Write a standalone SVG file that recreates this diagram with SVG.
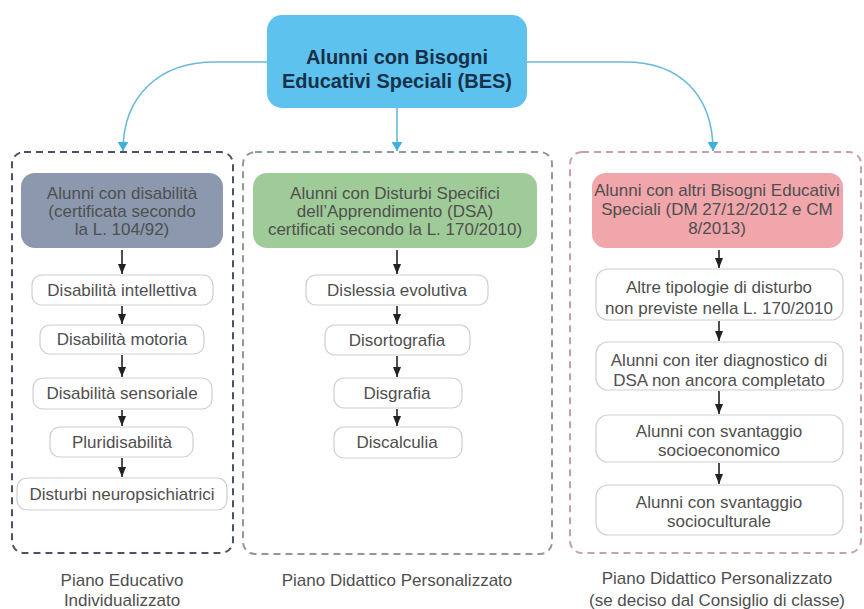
<svg xmlns="http://www.w3.org/2000/svg" width="864" height="609" viewBox="0 0 864 609">
<defs>
<style>
text{font-family:"Liberation Sans",Arial,sans-serif;font-size:17px;fill:#4f4f4f;text-anchor:middle}
.title{font-weight:bold;font-size:20px;fill:#16304a}
.node{fill:#ffffff;stroke:#cfcfcf;stroke-width:1.2}
.grp{fill:none;stroke-width:2;stroke-dasharray:7 5}
.blk{stroke:#222;stroke-width:1.6;fill:none;marker-end:url(#ah)}
.cy{stroke:#6ab9d8;stroke-width:1.6;fill:none;marker-end:url(#ahc)}
</style>
<marker id="ah" viewBox="0 0 10 8" refX="10" refY="4" markerWidth="10" markerHeight="8" markerUnits="userSpaceOnUse" orient="auto">
<path d="M0,0 L10,4 L0,8 Z" fill="#222"/>
</marker>
<marker id="ahc" viewBox="0 0 10 12" refX="10" refY="6" markerWidth="9" markerHeight="12" markerUnits="userSpaceOnUse" orient="auto">
<path d="M0,0 L10,6 L0,12 Z" fill="#3fb0dc"/>
</marker>
</defs>
<rect width="864" height="609" fill="#ffffff"/>

<g id="group-left"><rect class="grp" x="12" y="152" width="221" height="401" rx="12" stroke="#4b5466"/></g>
<g id="group-center"><rect class="grp" x="243" y="152" width="309" height="402" rx="12" stroke="#8e9c8e"/></g>
<g id="group-right"><rect class="grp" x="570" y="152" width="291" height="401" rx="12" stroke="#c9a0a6"/></g>

<g id="connectors">
<path class="cy" d="M267,62 H215 C160,62 123,95 123,151"/>
<path class="cy" d="M397,108 V151"/>
<path class="cy" d="M527,62 H625 C680,62 713,95 713,151"/>
<path class="blk" d="M122,250 V274"/>
<path class="blk" d="M122,306 V324"/>
<path class="blk" d="M122,355 V377"/>
<path class="blk" d="M122,410 V426"/>
<path class="blk" d="M122,458 V477"/>
<path class="blk" d="M397,250 V274"/>
<path class="blk" d="M397,306 V324"/>
<path class="blk" d="M397,356 V377"/>
<path class="blk" d="M397,409 V426"/>
<path class="blk" d="M719,250 V268"/>
<path class="blk" d="M719,321 V341"/>
<path class="blk" d="M719,391 V414"/>
<path class="blk" d="M719,463 V484"/>
</g>

<g id="bes">
<rect x="267" y="15" width="260" height="93" rx="15" fill="#5ec2ee"/>
<text class="title" x="397" y="64">Alunni con Bisogni</text>
<text class="title" x="397" y="88">Educativi Speciali (BES)</text>
</g>

<g id="disabilita">
<rect x="21" y="173" width="202" height="75" rx="14" fill="#8c98ae"/>
<text x="122" y="199">Alunni con disabilità</text>
<text x="122" y="217">(certificata secondo</text>
<text x="122" y="235">la L. 104/92)</text>
</g>
<g id="intellettiva"><rect class="node" x="32" y="275" width="181" height="30" rx="10"/><text x="122" y="296">Disabilità intellettiva</text></g>
<g id="motoria"><rect class="node" x="40" y="325" width="164" height="29" rx="10"/><text x="122" y="345">Disabilità motoria</text></g>
<g id="sensoriale"><rect class="node" x="33" y="378" width="179" height="31" rx="10"/><text x="122" y="399">Disabilità sensoriale</text></g>
<g id="pluri"><rect class="node" x="50" y="427" width="143" height="30" rx="10"/><text x="122" y="448">Pluridisabilità</text></g>
<g id="neuro"><rect class="node" x="17" y="478" width="210" height="32" rx="10"/><text x="122" y="500">Disturbi neuropsichiatrici</text></g>
<g id="label-left"><text x="122" y="586">Piano Educativo</text><text x="122" y="606">Individualizzato</text></g>

<g id="dsa">
<rect x="253" y="173" width="284" height="75" rx="14" fill="#9fcb98"/>
<text x="395" y="199">Alunni con Disturbi Specifici</text>
<text x="395" y="217">dell’Apprendimento (DSA)</text>
<text x="395" y="235">certificati secondo la L. 170/2010)</text>
</g>
<g id="dislessia"><rect class="node" x="306" y="275" width="182" height="30" rx="10"/><text x="397" y="296">Dislessia evolutiva</text></g>
<g id="disortografia"><rect class="node" x="325" y="325" width="145" height="30" rx="10"/><text x="397" y="346">Disortografia</text></g>
<g id="disgrafia"><rect class="node" x="334" y="378" width="128" height="30" rx="10"/><text x="397" y="399">Disgrafia</text></g>
<g id="discalculia"><rect class="node" x="334" y="427" width="128" height="31" rx="10"/><text x="397" y="448">Discalculia</text></g>
<g id="label-center"><text x="397" y="586">Piano Didattico Personalizzato</text></g>

<g id="altri-bes">
<rect x="592" y="173" width="251" height="75" rx="14" fill="#f0a6ab"/>
<text x="717" y="196">Alunni con altri Bisogni Educativi</text>
<text x="717" y="215">Speciali (DM 27/12/2012 e CM</text>
<text x="717" y="234">8/2013)</text>
</g>
<g id="altre"><rect class="node" x="596" y="269" width="247" height="51" rx="12"/><text x="719" y="293">Altre tipologie di disturbo</text><text x="719" y="314">non previste nella L. 170/2010</text></g>
<g id="iter"><rect class="node" x="596" y="342" width="247" height="48" rx="12"/><text x="719" y="366">Alunni con iter diagnostico di</text><text x="719" y="386">DSA non ancora completato</text></g>
<g id="socioeconomico"><rect class="node" x="596" y="415" width="247" height="47" rx="12"/><text x="719" y="437">Alunni con svantaggio</text><text x="719" y="456">socioeconomico</text></g>
<g id="socioculturale"><rect class="node" x="596" y="485" width="247" height="50" rx="12"/><text x="719" y="508">Alunni con svantaggio</text><text x="719" y="527">socioculturale</text></g>
<g id="label-right"><text x="717" y="584">Piano Didattico Personalizzato</text><text x="717" y="606">(se deciso dal Consiglio di classe)</text></g>
</svg>
